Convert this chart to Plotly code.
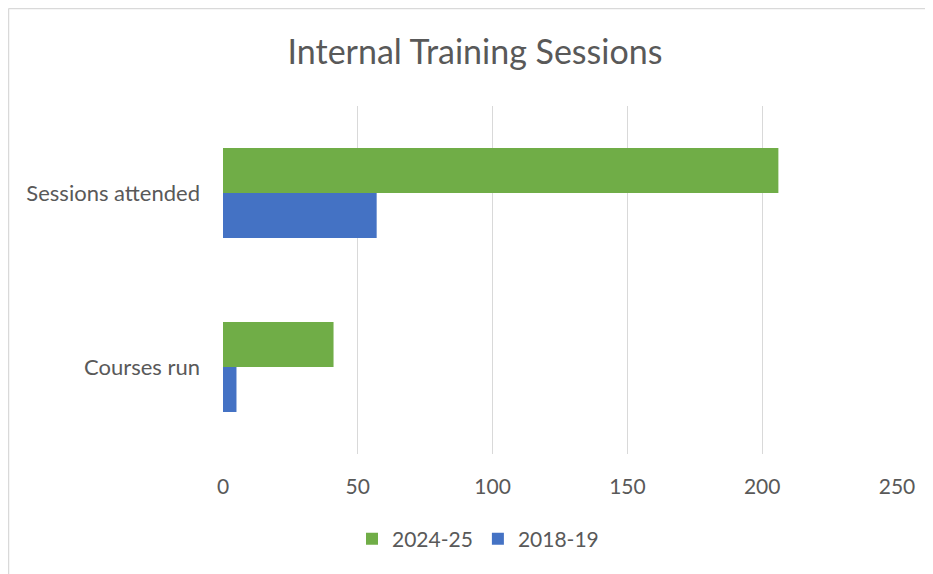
import plotly.graph_objects as go

categories = ["Courses run", "Sessions attended"]
series_2018 = [5, 57]
series_2024 = [41, 206]
x_ticks = [0, 50, 100, 150, 200, 250]

# the page body has an 8px margin, so the figure starts at (8, 8) in the window
OFF = 8
W, H = 933 - OFF, 574 - OFF
L, R, T, B = 223 - OFF, 36, 106 - OFF, 120
pw, ph = W - L - R, H - T - B

def px_x(p):  # window pixel -> paper x
    return (p - OFF - L) / pw

def px_y(p):  # window pixel -> paper y
    return (H - B - (p - OFF)) / ph

font = "Lato"
grey = "#595959"

fig = go.Figure()
fig.add_trace(go.Bar(name="2018-19", y=categories, x=series_2018, orientation="h",
                     marker=dict(color="#4472C4", line=dict(width=0))))
fig.add_trace(go.Bar(name="2024-25", y=categories, x=series_2024, orientation="h",
                     marker=dict(color="#70AD47", line=dict(width=0))))

fig.update_layout(
    width=W, height=H,
    margin=dict(l=L, r=R, t=T, b=B),
    paper_bgcolor="white", plot_bgcolor="white",
    barmode="group", bargap=0.483, bargroupgap=0,
    font=dict(family=font, color=grey, size=21),
    title=dict(text="Internal Training Sessions", x=px_x(475), xref="paper", xanchor="center",
               y=1 - (52 - OFF) / H, yref="container", yanchor="middle",
               font=dict(family=font, size=34, color=grey)),
    legend=dict(orientation="h", traceorder="reversed", x=px_x(478), xanchor="center",
                y=px_y(539), yanchor="middle", font=dict(size=21, color=grey),
                itemwidth=30, tracegroupgap=0),
    showlegend=True,
)
fig.update_xaxes(range=[0, 250], tickvals=x_ticks, showgrid=True, gridcolor="#D9D9D9",
                 gridwidth=1, zeroline=False, showline=False, ticks="",
                 ticklabelstandoff=18, tickfont=dict(size=21, color=grey), fixedrange=True)
fig.update_yaxes(showgrid=False, zeroline=False, showline=False, ticks="",
                 ticklabelstandoff=22, tickfont=dict(size=22, color=grey), fixedrange=True)

# outer chart frame (partially outside the view)
fx, fy = px_x(8.5), px_y(8.5)
fig.add_shape(type="line", xref="paper", yref="paper", x0=fx, x1=fx, y0=px_y(600), y1=fy,
              line=dict(color="#D9D9D9", width=1.5))
fig.add_shape(type="line", xref="paper", yref="paper", x0=fx, x1=px_x(1000), y0=fy, y1=fy,
              line=dict(color="#D9D9D9", width=1.5))

fig.write_html("out.html")
